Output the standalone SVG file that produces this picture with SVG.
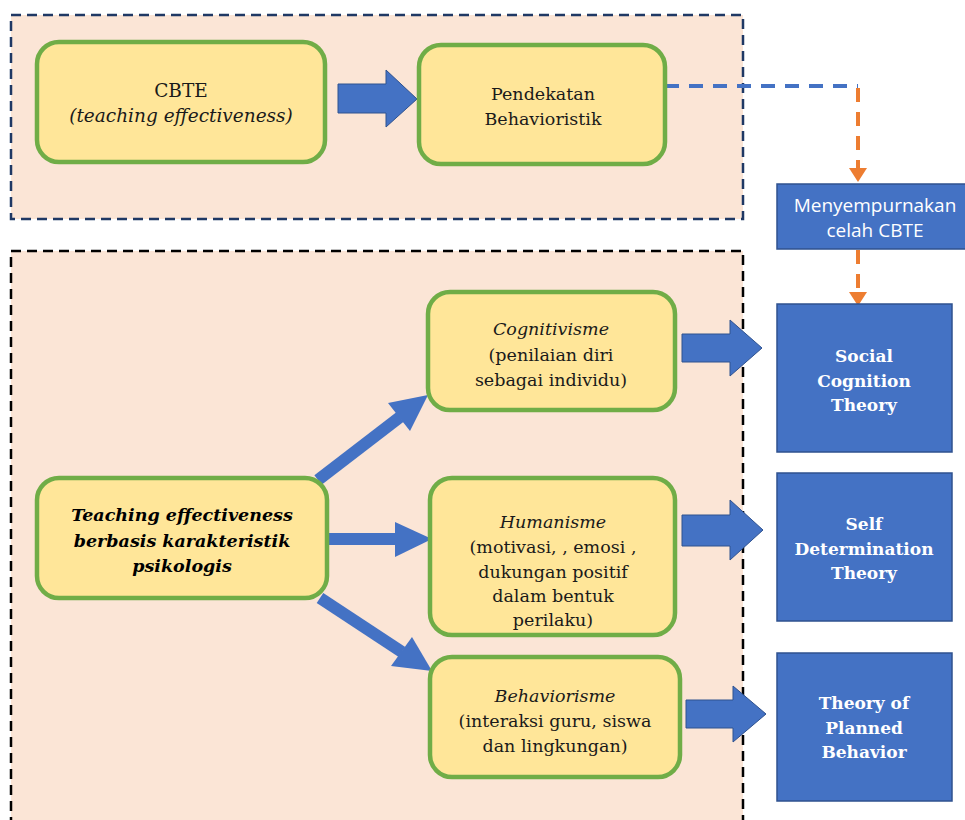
<svg xmlns="http://www.w3.org/2000/svg" width="965" height="820" viewBox="0 0 965 820">
  <style>
    .frame { fill: #FBE5D6; stroke-width: 2.5; stroke-dasharray: 10 6; }
    .node { fill: #FFE699; stroke: #70AD47; stroke-width: 4.5; }
    .theory { fill: #4472C4; stroke: #2F528F; stroke-width: 1.5; }
    .block { fill: #4472C4; stroke: #2F528F; stroke-width: 1; }
    .serif { font-family: "DejaVu Serif", "Liberation Serif", serif; font-size: 17.5px; fill: #1a1a1a; text-anchor: middle; }
    .big { font-size: 18.5px; }
    .it { font-style: italic; }
    .bi { font-style: italic; font-weight: bold; fill: #000; font-size: 17.5px; }
    .wb { font-family: "DejaVu Serif", "Liberation Serif", serif; font-size: 17px; font-weight: bold; fill: #ffffff; text-anchor: middle; }
    .sans { font-family: "Open Sans", "Liberation Sans", sans-serif; font-size: 19px; fill: #ffffff; text-anchor: middle; }
    .thin { stroke: #4472C4; stroke-width: 12; fill: none; }
  </style>

  <!-- background frames -->
  <rect class="frame" x="11" y="15" width="732" height="204" stroke="#1F3864"/>
  <rect class="frame" x="11" y="251" width="732" height="580" stroke="#000000"/>

  <!-- connectors -->
  <g id="connectors">
    <!-- block arrows -->
    <polygon class="block" points="338,84 386,84 386,70 417,99 386,127 386,113 338,113"/>
    <polygon class="block" points="682,334 730,334 730,320 762,348 730,376 730,362 682,362"/>
    <polygon class="block" points="682,515 730,515 730,500 763,530 730,560 730,546 682,546"/>
    <polygon class="block" points="686,700 733,700 733,686 766,714 733,742 733,728 686,728"/>
    <!-- fan-out arrows from the central concept -->
    <line class="thin" x1="318" y1="480" x2="400" y2="417"/>
    <polygon fill="#4472C4" points="428,395 388,403 410,431"/>
    <line class="thin" x1="326" y1="539" x2="398" y2="539"/>
    <polygon fill="#4472C4" points="432,539 395,522 395,557"/>
    <line class="thin" x1="320" y1="598" x2="402" y2="652"/>
    <polygon fill="#4472C4" points="432,671 391,666 412,637"/>
    <!-- dashed link to the refinement box -->
    <polyline points="665,86 858,86" fill="none" stroke="#4472C4" stroke-width="4" stroke-dasharray="14 10"/>
    <line x1="858" y1="88" x2="858" y2="168" stroke="#ED7D31" stroke-width="4" stroke-dasharray="14 10"/>
    <polygon fill="#ED7D31" points="849,168 867,168 858,182"/>
    <line x1="858" y1="250" x2="858" y2="292" stroke="#ED7D31" stroke-width="4" stroke-dasharray="14 10"/>
    <polygon fill="#ED7D31" points="849,292 867,292 858,306"/>
  </g>

  <g id="cbte">
    <rect class="node" x="37" y="42" width="288" height="120" rx="22"/>
    <text class="serif big" x="181" y="97">CBTE</text>
    <text class="serif big it" x="181" y="122">(teaching effectiveness)</text>
  </g>

  <g id="pendekatan">
    <rect class="node" x="419" y="45" width="246" height="119" rx="22"/>
    <text class="serif" x="543" y="100">Pendekatan</text>
    <text class="serif" x="543" y="125">Behavioristik</text>
  </g>

  <g id="menyempurnakan">
    <rect class="theory" x="777" y="184" width="190" height="65"/>
    <text class="sans" x="875" y="212">Menyempurnakan</text>
    <text class="sans" x="875" y="237">celah CBTE</text>
  </g>

  <g id="teaching">
    <rect class="node" x="37" y="478" width="290" height="120" rx="22"/>
    <text class="serif bi" x="182" y="521">Teaching effectiveness</text>
    <text class="serif bi" x="182" y="547">berbasis karakteristik</text>
    <text class="serif bi" x="182" y="572">psikologis</text>
  </g>

  <g id="cognitivisme">
    <rect class="node" x="428" y="292" width="247" height="118" rx="22"/>
    <text class="serif it" x="551" y="335">Cognitivisme</text>
    <text class="serif" x="551" y="361">(penilaian diri</text>
    <text class="serif" x="551" y="386">sebagai individu)</text>
  </g>

  <g id="humanisme">
    <rect class="node" x="430" y="478" width="245" height="157" rx="22"/>
    <text class="serif it" x="553" y="528">Humanisme</text>
    <text class="serif" x="553" y="553">(motivasi, , emosi ,</text>
    <text class="serif" x="553" y="578">dukungan positif</text>
    <text class="serif" x="553" y="602">dalam bentuk</text>
    <text class="serif" x="553" y="626">perilaku)</text>
  </g>

  <g id="behaviorisme">
    <rect class="node" x="430" y="657" width="250" height="120" rx="22"/>
    <text class="serif it" x="555" y="702">Behaviorisme</text>
    <text class="serif" x="555" y="727">(interaksi guru, siswa</text>
    <text class="serif" x="555" y="752">dan lingkungan)</text>
  </g>

  <g id="social-cognition">
    <rect class="theory" x="777" y="304" width="175" height="148"/>
    <text class="wb" x="864" y="362">Social</text>
    <text class="wb" x="864" y="387">Cognition</text>
    <text class="wb" x="864" y="411">Theory</text>
  </g>

  <g id="self-determination">
    <rect class="theory" x="777" y="473" width="175" height="148"/>
    <text class="wb" x="864" y="530">Self</text>
    <text class="wb" x="864" y="555">Determination</text>
    <text class="wb" x="864" y="579">Theory</text>
  </g>

  <g id="planned-behavior">
    <rect class="theory" x="777" y="653" width="175" height="148"/>
    <text class="wb" x="864" y="709">Theory of</text>
    <text class="wb" x="864" y="734">Planned</text>
    <text class="wb" x="864" y="758">Behavior</text>
  </g>
</svg>
